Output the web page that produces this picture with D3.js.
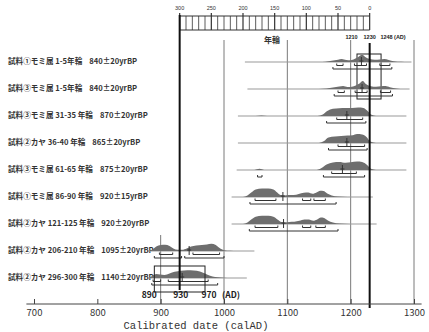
<!DOCTYPE html>
<html>
<head>
<meta charset="utf-8">
<script src="https://cdnjs.cloudflare.com/ajax/libs/d3/7.8.5/d3.min.js"></script>
<style>
  body { margin: 0; background: #fff; }
  svg { display: block; }
</style>
</head>
<body>
<div id="chart"></div>
<script>
// samples, top to bottom
var sampleNames = ["試料①モミ属 1-5年輪", "試料③モミ属 1-5年輪", "試料③モミ属 31-35 年輪",
  "試料②カヤ 36-40 年輪", "試料③モミ属 61-65 年輪", "試料①モミ属 86-90 年輪",
  "試料②カヤ 121-125 年輪", "試料②カヤ 206-210 年輪", "試料②カヤ 296-300 年輪"];
var sampleBP = ["840±20yrBP", "840±20yrBP", "870±20yrBP", "865±20yrBP", "875±20yrBP",
  "920±15yrBP", "920±20yrBP", "1095±20yrBP", "1140±20yrBP"];

// extent of the thin probability baseline (calAD)
var baseRanges = [[1033, 1296], [1037, 1293], [1022, 1288], [1022, 1288], [1020, 1288],
  [1012, 1235], [1012, 1241], [880, 1048], [880, 1036]];

// probability curves: [calAD, relative probability]
var densities = [
  [[1150,0],[1160,0.02],[1170,0.12],[1180,0.22],[1186,0.3],[1193,0.2],[1200,0.18],[1206,0.3],[1212,0.5],[1218,0.72],[1223,0.5],[1230,0.3],[1238,0.22],[1246,0.26],[1253,0.3],[1260,0.2],[1268,0.08],[1280,0.02],[1290,0]],
  [[1150,0],[1162,0.05],[1172,0.15],[1182,0.25],[1188,0.3],[1195,0.2],[1202,0.22],[1208,0.35],[1214,0.55],[1219,0.8],[1224,0.5],[1232,0.28],[1240,0.22],[1248,0.28],[1255,0.3],[1262,0.18],[1272,0.06],[1285,0]],
  [[1050,0],[1059,0.06],[1068,0],[1148,0],[1156,0.15],[1163,0.5],[1172,0.72],[1182,0.78],[1192,0.8],[1202,0.8],[1212,0.85],[1220,0.8],[1226,0.55],[1232,0.15],[1240,0]],
  [[1150,0],[1158,0.2],[1165,0.55],[1175,0.65],[1185,0.7],[1195,0.75],[1203,0.78],[1210,0.9],[1218,0.85],[1225,0.6],[1231,0.15],[1240,0]],
  [[1048,0],[1056,0.12],[1064,0],[1146,0],[1154,0.2],[1162,0.55],[1172,0.75],[1182,0.8],[1192,0.72],[1200,0.78],[1210,0.85],[1218,0.8],[1226,0.5],[1232,0.12],[1240,0]],
  [[1030,0],[1037,0.15],[1043,0.45],[1050,0.75],[1060,0.85],[1070,0.85],[1078,0.75],[1084,0.45],[1089,0.2],[1095,0.15],[1102,0.2],[1110,0.2],[1118,0.3],[1126,0.42],[1133,0.45],[1140,0.32],[1146,0.45],[1152,0.62],[1157,0.6],[1163,0.35],[1170,0.15],[1180,0.04],[1195,0]],
  [[1030,0],[1037,0.15],[1043,0.45],[1050,0.72],[1060,0.82],[1070,0.82],[1078,0.72],[1085,0.42],[1090,0.2],[1096,0.15],[1103,0.2],[1111,0.22],[1119,0.32],[1127,0.45],[1134,0.45],[1141,0.32],[1147,0.45],[1153,0.65],[1158,0.6],[1164,0.35],[1172,0.15],[1182,0.04],[1198,0]],
  [[884,0],[888,0.2],[893,0.45],[900,0.6],[907,0.62],[914,0.5],[920,0.25],[927,0.12],[934,0.12],[941,0.25],[948,0.45],[956,0.55],[965,0.6],[973,0.65],[980,0.72],[987,0.6],[993,0.3],[1000,0.08],[1010,0.02],[1020,0]],
  [[883,0],[887,0.25],[893,0.4],[899,0.35],[906,0.3],[914,0.45],[922,0.62],[932,0.72],[942,0.78],[952,0.75],[962,0.65],[970,0.45],[978,0.22],[986,0.1],[995,0.04],[1005,0]]
];

// 1 sigma and 2 sigma ranges (calAD)
var sigma1 = [[[1178,1188],[1206,1225],[1246,1262]], [[1180,1190],[1207,1226],[1247,1263]],
  [[1178,1219]], [[1180,1222]], [[1170,1209]], [[1049,1082],[1124,1137],[1142,1160]],
  [[1049,1085],[1124,1137],[1145,1160]], [[898,919],[951,993]], [[888,900],[912,975]]];
var sigma2 = [[[1172,1265]], [[1174,1266]], [[1162,1224]], [[1165,1226]], [[1053,1060],[1157,1222]],
  [[1041,1177]], [[1040,1180]], [[890,933],[938,1000]], [[886,990]]];
var medians = [1217, 1218, 1194, 1194, 1187, 1093, 1094, 945, 934];

var axisTicks = [700, 800, 900, 1000, 1100, 1200, 1300];
var gridYears = [1000, 1100, 1200, 1300];
var ringTicks = [300, 250, 200, 150, 100, 50, 0];
var topMarks = ["1210", "1230", "1248"];
var lowMarks = ["890", "930", "970"];

var w = 429, h = 332;
var svg = d3.select("#chart").append("svg").attr("width", w).attr("height", h);
svg.append("rect").attr("width", w).attr("height", h).attr("fill", "#fff");

var x = d3.scaleLinear().domain([700, 1300]).range([34, 414]);
var ring = d3.scaleLinear().domain([300, 0]).range([x(930), x(1230)]);
var rowY = d3.scalePoint().domain(d3.range(sampleNames.length)).range([62, 278]);
var ph = d3.scaleLinear().domain([0, 1]).range([0, 10]);
var axisY = 304;

// grid lines
svg.selectAll("line.grid").data(gridYears).enter().append("line")
  .attr("class", "grid").attr("x1", d => x(d)).attr("x2", d => x(d))
  .attr("y1", 40).attr("y2", axisY).attr("stroke", "#7a7a7a").attr("stroke-width", 1);
svg.append("line").attr("x1", x(900)).attr("x2", x(900)).attr("y1", 235).attr("y2", axisY)
  .attr("stroke", "#7a7a7a").attr("stroke-width", 1);

// tree ring ruler
var rul = svg.append("g");
rul.append("line").attr("x1", ring(300)).attr("x2", ring(0)).attr("y1", 16).attr("y2", 16).attr("stroke", "#333");
rul.append("line").attr("x1", ring(300)).attr("x2", ring(0)).attr("y1", 30).attr("y2", 30).attr("stroke", "#333");
rul.selectAll("line.rt").data(d3.range(0, 301, 10)).enter().append("line")
  .attr("class", "rt").attr("x1", d => ring(d)).attr("x2", d => ring(d))
  .attr("y1", d => d % 50 == 0 ? 13 : 16).attr("y2", 30)
  .attr("stroke", "#333").attr("stroke-width", d => d % 50 == 0 ? 1.2 : 0.8);
rul.selectAll("text").data(ringTicks).enter().append("text")
  .attr("x", d => ring(d)).attr("y", 10).attr("text-anchor", "middle")
  .attr("font-family", "Liberation Sans, sans-serif").attr("font-size", 5.5).attr("fill", "#333")
  .text(d => d);
svg.append("text").attr("x", 272).attr("y", 43).attr("text-anchor", "middle")
  .attr("font-family", "Noto Sans CJK JP").attr("font-weight", "bold").attr("font-size", 8).attr("fill", "#333")
  .text("年輪");

// top marker labels and box
svg.selectAll("text.tm").data(topMarks).enter().append("text").attr("class", "tm")
  .attr("x", (d, i) => x(+d) + [-5.5, 0, 5.5][i]).attr("y", 39).attr("text-anchor", "middle")
  .attr("font-family", "Liberation Sans Narrow, Liberation Sans, sans-serif").attr("font-weight", "bold")
  .attr("font-size", 5.5).attr("fill", "#222").text(d => d);
svg.append("text").attr("x", x(1248) + 13).attr("y", 39)
  .attr("font-family", "Liberation Sans Narrow, Liberation Sans, sans-serif").attr("font-weight", "bold")
  .attr("font-size", 5.5).attr("fill", "#222").text("(AD)");
svg.append("rect").attr("x", x(1210)).attr("y", rowY(0) - 8)
  .attr("width", x(1248) - x(1210)).attr("height", rowY(1) - rowY(0) + 18)
  .attr("fill", "none").attr("stroke", "#222").attr("stroke-width", 1);

// rows
var rows = svg.selectAll("g.row").data(sampleNames).enter().append("g").attr("class", "row");
rows.each(function(name, i) {
  var g = d3.select(this), y0 = rowY(i);
  var t = g.append("text").attr("x", 8).attr("y", y0 - 2).attr("dominant-baseline", "central")
    .attr("font-family", "Noto Sans CJK JP").attr("font-weight", "bold").attr("font-size", 7.6).attr("fill", "#333");
  t.append("tspan").text(name);
  t.append("tspan").attr("dx", 7).text(sampleBP[i]);

  g.append("line").attr("x1", x(baseRanges[i][0])).attr("x2", x(baseRanges[i][1]))
    .attr("y1", y0).attr("y2", y0).attr("stroke", "#999").attr("stroke-width", 1);

  var area = d3.area().curve(d3.curveMonotoneX)
    .x(d => x(d[0])).y0(y0).y1(d => y0 - ph(d[1]));
  g.append("path").attr("d", area(densities[i])).attr("fill", "#6e6e6e");

  var br = function(ranges, dy) {
    ranges.forEach(function(r) {
      g.append("path")
        .attr("d", "M" + x(r[0]) + "," + (y0 + dy - 2) + "V" + (y0 + dy) + "H" + x(r[1]) + "V" + (y0 + dy - 2))
        .attr("fill", "none").attr("stroke", "#333").attr("stroke-width", 1);
    });
  };
  br(sigma1[i], 3.5);
  br(sigma2[i], 7);

  var m = x(medians[i]);
  g.append("line").attr("x1", m).attr("x2", m).attr("y1", y0 - 5).attr("y2", y0 + 4).attr("stroke", "#333");
  g.append("line").attr("x1", m - 2).attr("x2", m + 2).attr("y1", y0 - 1).attr("y2", y0 - 1).attr("stroke", "#333");
});

// bottom box 890-970
svg.append("rect").attr("x", x(890)).attr("y", rowY(8) - 12)
  .attr("width", x(970) - x(890)).attr("height", 26)
  .attr("fill", "none").attr("stroke", "#222").attr("stroke-width", 1);
svg.selectAll("text.lm").data(lowMarks).enter().append("text").attr("class", "lm")
  .attr("x", (d, i) => x(+d) + [-5, 1, 4][i]).attr("y", 298).attr("text-anchor", "middle")
  .attr("font-family", "Noto Sans CJK JP").attr("font-weight", "bold").attr("font-size", 8.5).attr("fill", "#222")
  .text(d => d);
svg.append("text").attr("x", x(970) + 17).attr("y", 298)
  .attr("font-family", "Noto Sans CJK JP").attr("font-weight", "bold").attr("font-size", 8.5).attr("fill", "#222")
  .text("(AD)");

// thick marker lines at 930 and 1230
svg.append("line").attr("x1", x(930)).attr("x2", x(930)).attr("y1", 15).attr("y2", 290)
  .attr("stroke", "#111").attr("stroke-width", 2);
svg.append("line").attr("x1", x(1230)).attr("x2", x(1230)).attr("y1", 43).attr("y2", 308)
  .attr("stroke", "#111").attr("stroke-width", 2);

// x axis, ticks pointing up
var ax = svg.append("g").attr("transform", "translate(0," + axisY + ")");
ax.append("line").attr("x1", x(688)).attr("x2", x(1312)).attr("stroke", "#444");
ax.call(d3.axisTop(x).tickValues(d3.range(690, 1311, 10)).tickSize(2).tickSizeOuter(0).tickFormat(""));
ax.call(d3.axisTop(x).tickValues(axisTicks).tickSize(5).tickSizeOuter(0).tickFormat(""));
ax.select(".domain").remove();
ax.selectAll("line").attr("stroke", "#444");
svg.append("g").attr("transform", "translate(0," + axisY + ")")
  .call(d3.axisBottom(x).tickValues(axisTicks).tickSize(0).tickPadding(5).tickFormat(d3.format("d")))
  .call(g => g.select(".domain").remove())
  .selectAll("text").attr("font-family", "Noto Sans CJK JP").attr("font-size", 9.5).attr("fill", "#333");

svg.append("text").attr("x", 196).attr("y", 329).attr("text-anchor", "middle")
  .attr("font-family", "Liberation Mono, monospace").attr("font-size", 10.5).attr("fill", "#333")
  .text("Calibrated date (calAD)");
</script>
</body>
</html>
